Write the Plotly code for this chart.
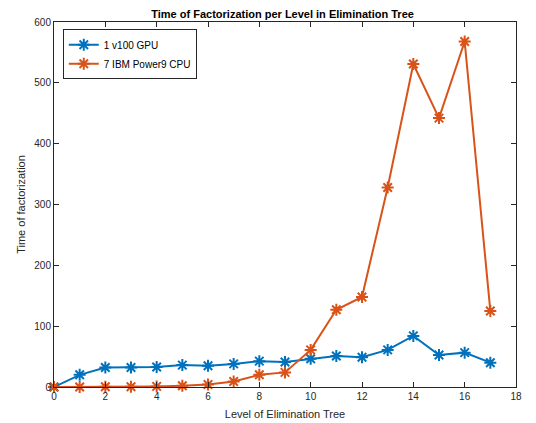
import plotly.graph_objects as go

levels = list(range(18))
gpu_times = [0, 20, 32, 32, 33, 36, 35, 38, 42.5, 41, 46.5, 51, 49, 61, 84, 52.5, 56.5, 40]
cpu_times = [0, 0, 0.5, 0.5, 1, 2, 4, 9, 20, 24, 61, 127, 148, 328, 531, 442, 568, 125]
series_names = ["1 v100 GPU", "7 IBM Power9 CPU"]
x_ticks = list(range(0, 19, 2))
y_ticks = list(range(0, 601, 100))

blue = "#0072BD"
orange = "#D95319"
axis_col = "#262626"

fig = go.Figure()
for name, vals, col in [(series_names[0], gpu_times, blue), (series_names[1], cpu_times, orange)]:
    fig.add_trace(go.Scatter(
        x=levels, y=vals, mode="lines+markers", name=name,
        line=dict(color=col, width=2),
        marker=dict(symbol="asterisk-open", size=10, color=col, line=dict(color=col, width=2)),
        cliponaxis=False,
    ))

axis_common = dict(
    showline=True, linecolor=axis_col, linewidth=1, mirror="allticks",
    ticks="inside", ticklen=5, tickcolor=axis_col, showgrid=False, zeroline=False,
    automargin=False,
    tickfont=dict(family="Liberation Sans, Arial, sans-serif", size=10, color=axis_col),
)

# The page body has an 8px margin, so the figure is sized/offset to compensate.
fig.update_layout(
    width=528, height=415,
    margin=dict(l=46, r=20, t=14, b=36, autoexpand=False),
    paper_bgcolor="white", plot_bgcolor="white",
    font=dict(family="Liberation Sans, Arial, sans-serif", size=10, color=axis_col),
    title=dict(text="<b>Time of Factorization per Level in Elimination Tree</b>",
               x=0.52, xanchor="center", y=0.985, yanchor="middle", automargin=False,
               font=dict(size=11, color="black")),
    xaxis=dict(range=[0, 18], tickvals=x_ticks,
               title=dict(text="Level of Elimination Tree", font=dict(size=11, color=axis_col), standoff=9),
               **axis_common),
    yaxis=dict(range=[0, 600], tickvals=y_ticks,
               title=dict(text="Time of factorization", font=dict(size=11, color=axis_col), standoff=6),
               **axis_common),
    legend=dict(x=0.019, y=0.98, xanchor="left", yanchor="top",
                bordercolor=axis_col, borderwidth=1, bgcolor="white",
                font=dict(size=10, color="black"), tracegroupgap=0,
                itemwidth=30),
    showlegend=True,
)

fig.write_html("out.html")
